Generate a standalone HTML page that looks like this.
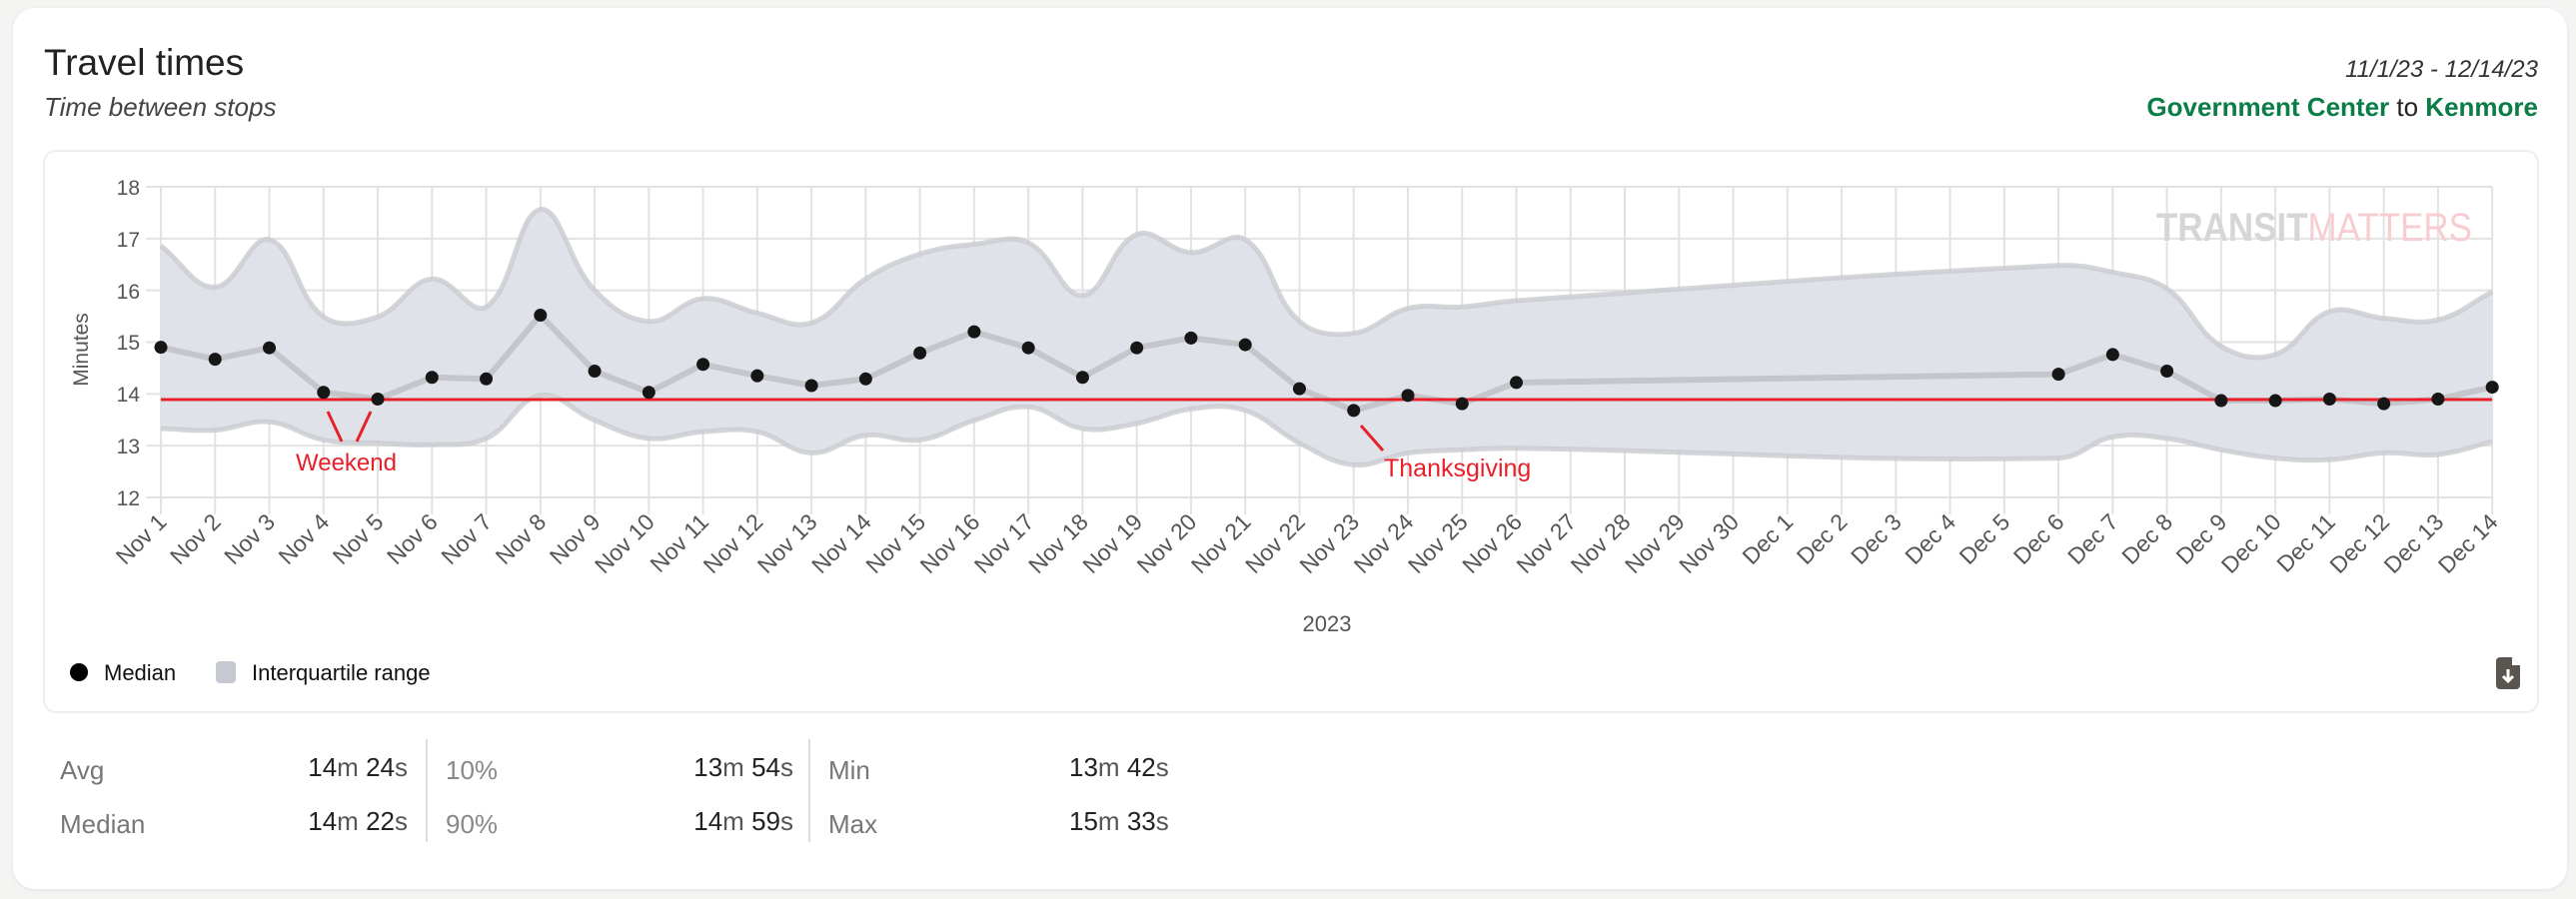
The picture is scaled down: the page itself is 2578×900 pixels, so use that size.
<!DOCTYPE html>
<html><head><meta charset="utf-8">
<style>
html,body{margin:0;padding:0;background:#f4f4f3;width:2578px;height:900px;overflow:hidden;font-family:"Liberation Sans",sans-serif;}
.card{position:absolute;left:13px;top:8px;width:2556px;height:882px;background:#fff;border-radius:22px;box-shadow:0 1px 4px rgba(0,0,0,.08);}
.t{position:absolute;white-space:nowrap;}
</style></head><body>
<div class="card"></div>
<div class="t" style="left:44px;top:42px;font-size:37px;color:#222;">Travel times</div>
<div class="t" style="left:44px;top:92px;font-size:26px;font-style:italic;color:#444;">Time between stops</div>
<div class="t" style="right:38px;top:56px;font-size:24px;font-style:italic;color:#333;">11/1/23 - 12/14/23</div>
<div class="t" style="right:38px;top:92px;font-size:26px;color:#222;"><b style="color:#0a7d46">Government Center</b> to <b style="color:#0a7d46">Kenmore</b></div>

<svg style="position:absolute;left:0;top:0" width="2578" height="900" xmlns="http://www.w3.org/2000/svg">
<rect x="44" y="151" width="2496" height="562" rx="12" fill="#fff" stroke="#eeeeee" stroke-width="2"/>
<g id="grid" stroke="#e2e2e2" stroke-width="2"></g>
<text x="2158" y="241" font-size="40" font-weight="bold" fill="#d6d6d6" textLength="316" lengthAdjust="spacingAndGlyphs">TRANSIT<tspan font-weight="normal" fill="#f7cdd2">MATTERS</tspan></text>
<path id="band" fill="#dde1e8" fill-opacity="0.95" stroke="none"/>
<path id="bu" fill="none" stroke="#c9cacf" stroke-width="5" stroke-opacity="0.8"/>
<path id="bl" fill="none" stroke="#c9cacf" stroke-width="5" stroke-opacity="0.8"/>
<polyline id="med" fill="none" stroke="#c5c6cc" stroke-width="6"/>
<line x1="161" y1="400" x2="2494" y2="400" stroke="#e8202a" stroke-width="3"/>
<g id="dots" fill="#161616"></g>
<g stroke="#e8202a" stroke-width="3">
<line x1="328" y1="412" x2="342" y2="442"/><line x1="371" y1="412" x2="357" y2="442"/>
<line x1="1362" y1="426" x2="1384" y2="451"/>
</g>
<text x="296" y="471" font-size="24" fill="#e8202a">Weekend</text>
<text x="1385" y="477" font-size="25" fill="#e8202a">Thanksgiving</text>
<g font-size="21" fill="#555" text-anchor="end">
<text x="140" y="195">18</text><text x="140" y="247">17</text><text x="140" y="299">16</text>
<text x="140" y="350">15</text><text x="140" y="402">14</text><text x="140" y="454">13</text><text x="140" y="506">12</text>
</g>
<text transform="translate(88,350) rotate(-90)" font-size="21" fill="#555" text-anchor="middle">Minutes</text>
<g id="xl" font-size="23" fill="#555" text-anchor="end">
<text>Nov 1</text><text>Nov 2</text><text>Nov 3</text><text>Nov 4</text><text>Nov 5</text><text>Nov 6</text><text>Nov 7</text><text>Nov 8</text><text>Nov 9</text><text>Nov 10</text><text>Nov 11</text><text>Nov 12</text><text>Nov 13</text><text>Nov 14</text><text>Nov 15</text><text>Nov 16</text><text>Nov 17</text><text>Nov 18</text><text>Nov 19</text><text>Nov 20</text><text>Nov 21</text><text>Nov 22</text><text>Nov 23</text><text>Nov 24</text><text>Nov 25</text><text>Nov 26</text><text>Nov 27</text><text>Nov 28</text><text>Nov 29</text><text>Nov 30</text><text>Dec 1</text><text>Dec 2</text><text>Dec 3</text><text>Dec 4</text><text>Dec 5</text><text>Dec 6</text><text>Dec 7</text><text>Dec 8</text><text>Dec 9</text><text>Dec 10</text><text>Dec 11</text><text>Dec 12</text><text>Dec 13</text><text>Dec 14</text>
</g>
<text x="1328" y="632" font-size="22" fill="#555" text-anchor="middle">2023</text>
<circle cx="79" cy="673" r="9" fill="#000"/>
<text x="104" y="681" font-size="22" fill="#111">Median</text>
<rect x="216" y="662" width="20" height="22" rx="4" fill="#c6c9d1"/>
<text x="252" y="681" font-size="22" fill="#111">Interquartile range</text>
<path d="M2502 658h12l8 8v20a4 4 0 0 1-4 4h-16a4 4 0 0 1-4-4v-24a4 4 0 0 1 4-4z" fill="#5a554f"/>
<path d="M2514 658v8h8z" fill="#fff"/>
<path d="M2510 670v11M2505 677l5 5 5-5" stroke="#fff" stroke-width="3" fill="none"/>
<line x1="427" y1="740" x2="427" y2="843" stroke="#ddd" stroke-width="2"/>
<line x1="810" y1="740" x2="810" y2="843" stroke="#ddd" stroke-width="2"/>
</svg>

<div class="t" style="left:60px;top:756px;font-size:26px;color:#777;">Avg</div>
<div class="t" style="left:60px;top:810px;font-size:26px;color:#777;">Median</div>
<div class="t" style="right:2170px;top:753px;font-size:26px;color:#222;">14<span style="color:#555">m</span> 24<span style="color:#555">s</span></div>
<div class="t" style="right:2170px;top:807px;font-size:26px;color:#222;">14<span style="color:#555">m</span> 22<span style="color:#555">s</span></div>
<div class="t" style="left:446px;top:756px;font-size:26px;color:#888;">10%</div>
<div class="t" style="left:446px;top:810px;font-size:26px;color:#888;">90%</div>
<div class="t" style="right:1784px;top:753px;font-size:26px;color:#222;">13<span style="color:#555">m</span> 54<span style="color:#555">s</span></div>
<div class="t" style="right:1784px;top:807px;font-size:26px;color:#222;">14<span style="color:#555">m</span> 59<span style="color:#555">s</span></div>
<div class="t" style="left:829px;top:756px;font-size:26px;color:#777;">Min</div>
<div class="t" style="left:829px;top:810px;font-size:26px;color:#777;">Max</div>
<div class="t" style="left:1070px;top:753px;font-size:26px;color:#222;">13<span style="color:#555">m</span> 42<span style="color:#555">s</span></div>
<div class="t" style="left:1070px;top:807px;font-size:26px;color:#222;">15<span style="color:#555">m</span> 33<span style="color:#555">s</span></div>

<script>
var X0=161,ST=54.26,Y18=187,U=51.83;
function X(i){return X0+i*ST;}function Y(v){return Y18+(18-v)*U;}
var NS="http://www.w3.org/2000/svg";
var g=document.getElementById('grid');
function ln(a,b,c,d){var l=document.createElementNS(NS,'line');l.setAttribute('x1',a);l.setAttribute('y1',b);l.setAttribute('x2',c);l.setAttribute('y2',d);g.appendChild(l);}
for(var i=0;i<44;i++){ln(X(i),Y18,X(i),515);}
for(var v=12;v<=18;v++){ln(146,Y(v),X(43),Y(v));}
var xl=document.getElementById('xl').children;
for(var i=0;i<xl.length;i++){xl[i].setAttribute('transform','translate('+(X(i)+7)+',524) rotate(-45)');}
var idx=[0,1,2,3,4,5,6,7,8,9,10,11,12,13,14,15,16,17,18,19,20,21,22,23,24,25,35,36,37,38,39,40,41,42,43];
var med=[14.9,14.67,14.89,14.03,13.9,14.32,14.29,15.52,14.44,14.03,14.57,14.35,14.16,14.29,14.79,15.2,14.89,14.32,14.89,15.08,14.95,14.1,13.68,13.97,13.81,14.22,14.38,14.76,14.44,13.87,13.87,13.9,13.81,13.9,14.13];
var up=[16.86,16.06,16.98,15.49,15.49,16.22,15.68,17.56,16,15.4,15.84,15.56,15.37,16.22,16.7,16.89,16.92,15.9,17.08,16.73,16.98,15.4,15.17,15.65,15.68,15.8,16.48,16.35,16.03,14.92,14.76,15.59,15.46,15.43,15.97];
var lo=[13.33,13.3,13.46,13.11,13.05,13.02,13.14,13.97,13.49,13.14,13.27,13.27,12.86,13.2,13.11,13.49,13.75,13.33,13.43,13.71,13.68,13.05,12.63,12.86,12.92,12.95,12.76,13.17,13.14,12.92,12.76,12.73,12.86,12.83,13.08];
function pts(a){return idx.map(function(k,j){return [X(k),Y(a[j])];});}
function ctrl(p){var t=0.4,n=p.length,cp=[];
for(var i=0;i<n;i++){var p0=p[i-1]||p[i],p1=p[i],p2=p[i+1]||p[i];
var d01=Math.hypot(p1[0]-p0[0],p1[1]-p0[1]),d12=Math.hypot(p2[0]-p1[0],p2[1]-p1[1]);
var s=d01+d12||1,fa=t*d01/s,fb=t*d12/s;
cp.push({pv:[p1[0]-fa*(p2[0]-p0[0]),p1[1]-fa*(p2[1]-p0[1])],nx:[p1[0]+fb*(p2[0]-p0[0]),p1[1]+fb*(p2[1]-p0[1])]});}
return cp;}
function smooth(p,move){var cp=ctrl(p);var d=(move?'M':'L')+p[0][0]+' '+p[0][1];
for(var i=0;i<p.length-1;i++){var a=cp[i].nx,b=cp[i+1].pv;d+=' C'+a[0]+' '+a[1]+' '+b[0]+' '+b[1]+' '+p[i+1][0]+' '+p[i+1][1];}return d;}
var pu=pts(up),pl=pts(lo),pm=pts(med);
var du=smooth(pu,true),dl=smooth(pl.slice().reverse(),false);
document.getElementById('band').setAttribute('d',du+' '+dl+' Z');
document.getElementById('bu').setAttribute('d',du);
document.getElementById('bl').setAttribute('d',smooth(pl,true));
document.getElementById('med').setAttribute('points',pm.map(function(p){return p.join(',');}).join(' '));
var dg=document.getElementById('dots');
pm.forEach(function(p){var c=document.createElementNS(NS,'circle');c.setAttribute('cx',p[0]);c.setAttribute('cy',p[1]);c.setAttribute('r',6.5);dg.appendChild(c);});
</script>
</body></html>
